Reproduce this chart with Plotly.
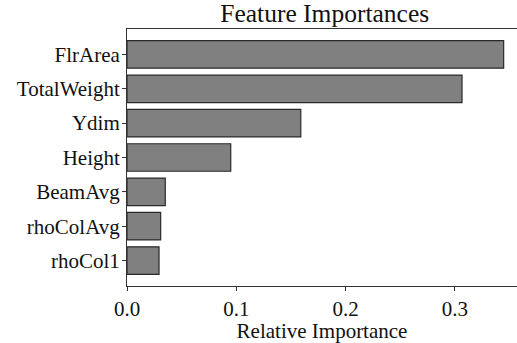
import plotly.graph_objects as go

features = ["FlrArea", "TotalWeight", "Ydim", "Height", "BeamAvg", "rhoColAvg", "rhoCol1"]
importances = [0.3446, 0.3065, 0.159, 0.0949, 0.035, 0.0308, 0.0293]
x_ticks = [0.0, 0.1, 0.2, 0.3]
x_tick_labels = ["0.0", "0.1", "0.2", "0.3"]

FONT = "Liberation Serif, Times New Roman, serif"
TXT = "#111111"

fig = go.Figure(
    go.Bar(
        x=importances,
        y=features,
        orientation="h",
        width=0.8,
        marker=dict(color="#808080", line=dict(color="#2a2a2a", width=1.2)),
    )
)

fig.update_layout(
    width=517,
    height=343,
    margin=dict(l=127, r=0, t=28.5, b=57),
    paper_bgcolor="white",
    plot_bgcolor="white",
    showlegend=False,
    font=dict(family=FONT, size=21, color=TXT),
    title=dict(
        text="Feature Importances",
        font=dict(family=FONT, size=25.5, color=TXT),
        x=0.507,
        xref="paper",
        xanchor="center",
        y=1 - 21.5 / 343,
        yref="container",
        yanchor="bottom",
        pad=dict(t=0, b=0, l=0, r=0),
    ),
    xaxis=dict(
        range=[0, 0.3568],
        tickvals=x_ticks,
        ticktext=x_tick_labels,
        showline=True,
        linecolor="#333333",
        linewidth=1,
        mirror=True,
        ticks="outside",
        ticklen=4,
        tickcolor="#333333",
        showgrid=False,
        zeroline=False,
        title=dict(text="Relative Importance", standoff=2,
                   font=dict(family=FONT, size=21, color=TXT)),
        tickfont=dict(family=FONT, size=21, color=TXT),
    ),
    yaxis=dict(
        type="category",
        categoryorder="array",
        categoryarray=features,
        range=[6.74, -0.74],
        showline=True,
        linecolor="#333333",
        linewidth=1,
        mirror=False,
        ticks="outside",
        ticklen=4,
        tickcolor="#333333",
        ticklabelstandoff=-2,
        showgrid=False,
        zeroline=False,
        tickfont=dict(family=FONT, size=21, color=TXT),
    ),
)

fig.write_html("out.html")
